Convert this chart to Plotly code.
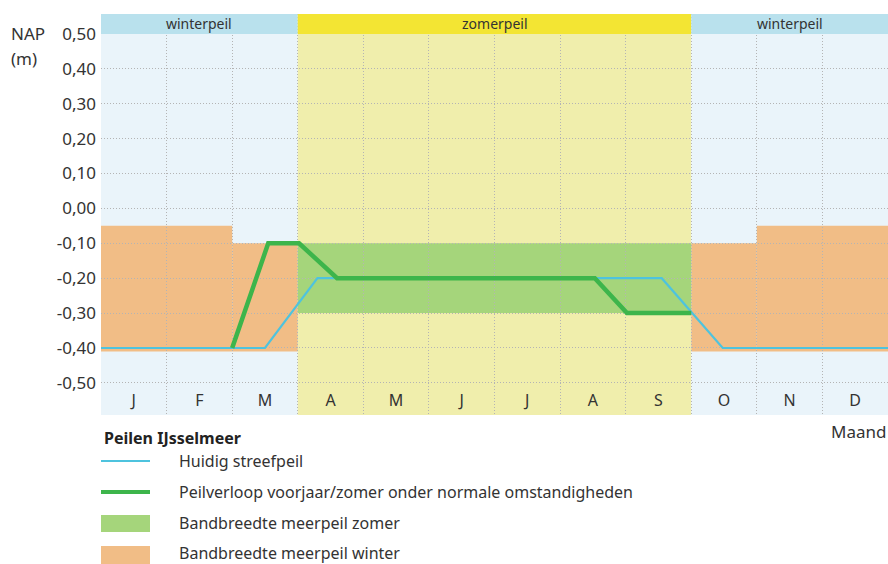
import plotly.graph_objects as go

# Months and axis labels
months = ["J", "F", "M", "A", "M", "J", "J", "A", "S", "O", "N", "D"]
month_pos = [i + 0.5 for i in range(12)]
y_ticks = [0.5, 0.4, 0.3, 0.2, 0.1, 0.0, -0.1, -0.2, -0.3, -0.4, -0.5]
y_ticktext = ["0,50", "0,40", "0,30", "0,20", "0,10", "0,00",
              "-0,10", "-0,20", "-0,30", "-0,40", "-0,50"]

# Seasons (month index start, end, label)
season_start = [0, 3, 9]
season_end = [3, 9, 12]
season_label = ["winterpeil", "zomerpeil", "winterpeil"]
season_kind = ["winter", "zomer", "winter"]

# Winter bandwidth (orange blocks): start, end, top, bottom (m NAP)
winter_x0 = [0, 2, 9, 10]
winter_x1 = [2, 3, 10, 12]
winter_top = [-0.05, -0.10, -0.10, -0.05]
winter_bot = [-0.41, -0.41, -0.41, -0.41]

# Summer bandwidth (green block)
summer_x0, summer_x1 = 3, 9
summer_top, summer_bot = -0.10, -0.30

# Huidig streefpeil
streef_x = [0, 2.5, 3.3, 8.55, 9.48, 12]
streef_y = [-0.40, -0.40, -0.20, -0.20, -0.40, -0.40]

# Peilverloop voorjaar/zomer onder normale omstandigheden
verloop_x = [2.0, 2.55, 3.02, 3.6, 7.53, 8.02, 9.0]
verloop_y = [-0.40, -0.10, -0.10, -0.20, -0.20, -0.30, -0.30]

Y_MIN, Y_TOP, Y_HEAD = -0.592, 0.50, 0.557

BG = {"winter": "#eaf4fa", "zomer": "#f0eeac"}
HEAD = {"winter": "#b9e1ed", "zomer": "#f3e533"}
ORANGE = "#f1bd86"
GREEN_BAND = "#a5d57b"
GREEN_LINE = "#3db54b"
BLUE_LINE = "#4ec3de"
TEXT = "#333333"
GRID = "#b4b4b4"
FONT = "Noto Sans"

shapes = []
annotations = []

for x0, x1, kind, lab in zip(season_start, season_end, season_kind, season_label):
    shapes.append(dict(type="rect", xref="x", yref="y", x0=x0, x1=x1, y0=Y_MIN, y1=Y_TOP,
                       fillcolor=BG[kind], line_width=0, layer="below"))
    shapes.append(dict(type="rect", xref="x", yref="y", x0=x0, x1=x1, y0=Y_TOP, y1=Y_HEAD,
                       fillcolor=HEAD[kind], line_width=0, layer="above"))
    annotations.append(dict(x=(x0 + x1) / 2, y=(Y_TOP + Y_HEAD) / 2, xref="x", yref="y",
                            text=lab, showarrow=False,
                            font=dict(family=FONT, size=14, color=TEXT)))

for x0, x1, t, b in zip(winter_x0, winter_x1, winter_top, winter_bot):
    shapes.append(dict(type="rect", xref="x", yref="y", x0=x0, x1=x1, y0=b, y1=t,
                       fillcolor=ORANGE, line_width=0, layer="below"))

shapes.append(dict(type="rect", xref="x", yref="y", x0=summer_x0, x1=summer_x1,
                   y0=summer_bot, y1=summer_top, fillcolor=GREEN_BAND, line_width=0,
                   layer="below"))

fig = go.Figure()

fig.add_trace(go.Scatter(x=streef_x, y=streef_y, mode="lines",
                         line=dict(color=BLUE_LINE, width=2.2), hoverinfo="skip"))
fig.add_trace(go.Scatter(x=verloop_x, y=verloop_y, mode="lines",
                         line=dict(color=GREEN_LINE, width=4.5), hoverinfo="skip"))
fig.add_trace(go.Scatter(x=month_pos, y=[-0.556] * 12, mode="text", text=months,
                         textfont=dict(family=FONT, size=16, color=TEXT), hoverinfo="skip"))


# Legend block below the plot (paper coordinates from pixel offsets)
def py(p):
    return (415 - p) / 401


def px(p):
    return (p - 101) / 787


annotations.append(dict(x=px(102), y=py(438), xref="paper", yref="paper", xanchor="left",
                        yanchor="middle", text="<b>Peilen IJsselmeer</b>", showarrow=False,
                        font=dict(family=FONT, size=16, color="#222222")))
legend_rows = [461, 492, 523, 553]
legend_text = ["Huidig streefpeil",
               "Peilverloop voorjaar/zomer onder normale omstandigheden",
               "Bandbreedte meerpeil zomer",
               "Bandbreedte meerpeil winter"]
for r, t in zip(legend_rows, legend_text):
    annotations.append(dict(x=px(177), y=py(r), xref="paper", yref="paper", xanchor="left",
                            yanchor="middle", text=t, showarrow=False,
                            font=dict(family=FONT, size=16, color=TEXT)))
shapes.append(dict(type="line", xref="paper", yref="paper", x0=px(101), x1=px(150),
                   y0=py(461), y1=py(461), line=dict(color=BLUE_LINE, width=2)))
shapes.append(dict(type="line", xref="paper", yref="paper", x0=px(101), x1=px(150),
                   y0=py(492), y1=py(492), line=dict(color=GREEN_LINE, width=4)))
shapes.append(dict(type="rect", xref="paper", yref="paper", x0=px(101), x1=px(150),
                   y0=py(532), y1=py(515), fillcolor=GREEN_BAND, line_width=0))
shapes.append(dict(type="rect", xref="paper", yref="paper", x0=px(101), x1=px(150),
                   y0=py(565), y1=py(546), fillcolor=ORANGE, line_width=0))

annotations.append(dict(x=1, y=py(432), xref="paper", yref="paper", xanchor="right",
                        yanchor="middle", text="Maand", showarrow=False,
                        font=dict(family=FONT, size=17, color=TEXT)))
annotations.append(dict(x=px(9), y=py(33), xref="paper", yref="paper", xanchor="left",
                        yanchor="middle", text="NAP", showarrow=False,
                        font=dict(family=FONT, size=17, color=TEXT)))
annotations.append(dict(x=px(9), y=py(58), xref="paper", yref="paper", xanchor="left",
                        yanchor="middle", text="(m)", showarrow=False,
                        font=dict(family=FONT, size=17, color=TEXT)))

fig.update_layout(
    width=888, height=564,
    margin=dict(l=101, r=0, t=14, b=149),
    paper_bgcolor="white", plot_bgcolor="white",
    showlegend=False,
    shapes=shapes, annotations=annotations,
    xaxis=dict(range=[0, 12], tickvals=list(range(13)), showticklabels=False,
               showgrid=True, gridcolor=GRID, griddash="1px,2px", gridwidth=1,
               zeroline=False, showline=False, ticks="", fixedrange=True),
    yaxis=dict(range=[Y_MIN, Y_HEAD], tickvals=y_ticks + [Y_MIN + 0.001],
               ticktext=y_ticktext + [""], ticklabelstandoff=4,
               showgrid=True, gridcolor=GRID, griddash="1px,2px", gridwidth=1,
               zeroline=False, showline=False, ticks="",
               tickfont=dict(family=FONT, size=17, color=TEXT), fixedrange=True),
)

fig.write_html("out.html")
